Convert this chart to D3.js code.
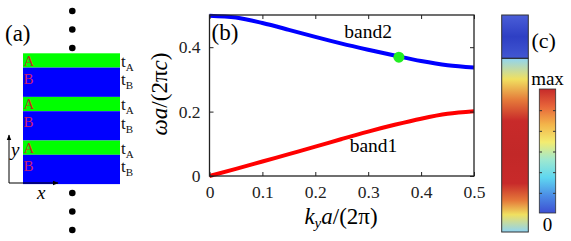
<!DOCTYPE html>
<html lang="en">
<head>
<meta charset="UTF-8">
<title>Photonic bands</title>
<script src="https://d3js.org/d3.v7.min.js"></script>
</head>
<body style="margin:0; background:#fff">
<script>
const W = 571, H = 241;
const SERIF = '"Liberation Serif"';

// band data
const ky = [0, 0.05, 0.1, 0.15, 0.2, 0.25, 0.3, 0.35, 0.4, 0.45, 0.5];
const band1 = [0, 0.022, 0.045, 0.068, 0.091, 0.115, 0.138, 0.159, 0.178, 0.193, 0.201];
const band2 = [0.498, 0.492, 0.475, 0.454, 0.432, 0.411, 0.392, 0.374, 0.357, 0.344, 0.337];
const marker = [0.358, 0.369];
const xTicks = [0, 0.1, 0.2, 0.3, 0.4, 0.5];
const yTicks = [0, 0.2, 0.4];

// layer stack in panel (a)
const layers = ["A", "B", "A", "B", "A", "B"];
const layerH = { A: 14.3, B: 29.3 };

// colour maps for panel (c)
const barStops = ["#8fd4f2", "#f0e060", "#e57a3a", "#c82a2a", "#c22828", "#c82a2a", "#e57a3a", "#f0e060", "#8fd4f2"];
const barOffsets = [0, 0.12, 0.24, 0.36, 0.55, 0.72, 0.82, 0.9, 1];
const jetStops = ["#c62a2a", "#e8663a", "#f3b44a", "#f3ec70", "#9ee8d0", "#5fd7f0", "#4c8ee6", "#3d4fd2"];
const cbTicks = [1, 2, 3, 4, 5];

const svg = d3.select("body").append("svg").attr("width", W).attr("height", H);
const defs = svg.append("defs");

// ---------- panel (a) ----------
const ga = svg.append("g");
let yy = 53.3;
layers.forEach(l => {
  ga.append("rect").attr("x", 23).attr("y", yy).attr("width", 97).attr("height", layerH[l])
    .attr("fill", l === "A" ? "#00ff00" : "#0000ff");
  ga.append("text").attr("x", 23.5).attr("y", yy + (l === "A" ? 12.5 : 16))
    .attr("font-size", 15).attr("fill", l === "A" ? "#c03020" : "#d0206a").text(l);
  const t = ga.append("text").attr("x", 121).attr("y", yy + layerH[l] - (l === "A" ? 1 : 12))
    .attr("font-size", 17).attr("fill", "#111").text("t");
  t.append("tspan").attr("font-size", 11).attr("dy", 4).text(l);
  yy += layerH[l];
});
[11, 29.5, 48, 193, 211.5, 230].forEach(cy => {
  ga.append("circle").attr("cx", 72.3).attr("cy", cy).attr("r", 3.3).attr("fill", "#000");
});
ga.append("text").attr("x", 5).attr("y", 41).attr("font-size", 23).text("(a)");
defs.append("marker").attr("id", "arr").attr("viewBox", "0 0 10 10").attr("refX", 9).attr("refY", 5)
  .attr("markerWidth", 6).attr("markerHeight", 6).attr("orient", "auto")
  .append("path").attr("d", "M0,1L10,5L0,9Z").attr("fill", "#000");
ga.append("line").attr("x1", 9).attr("y1", 183).attr("x2", 9).attr("y2", 135)
  .attr("stroke", "#000").attr("stroke-width", 1).attr("marker-end", "url(#arr)");
ga.append("line").attr("x1", 9).attr("y1", 183).attr("x2", 58).attr("y2", 183)
  .attr("stroke", "#000").attr("stroke-width", 1).attr("marker-end", "url(#arr)");
ga.append("text").attr("x", 11).attr("y", 156).attr("font-size", 19).attr("font-style", "italic").text("y");
ga.append("text").attr("x", 37).attr("y", 199).attr("font-size", 19).attr("font-style", "italic").text("x");

// ---------- panel (b) ----------
const m = { left: 209.5, right: 474, top: 15, bottom: 176 };
const x = d3.scaleLinear().domain([0, 0.5]).range([m.left, m.right]);
const y = d3.scaleLinear().domain([0, 0.5]).range([m.bottom, m.top]);

const gb = svg.append("g");
const line = d3.line().x((d, i) => x(ky[i])).y(d => y(d)).curve(d3.curveMonotoneX);
gb.append("path").datum(band1).attr("d", line).attr("fill", "none").attr("stroke", "#ff0000").attr("stroke-width", 4);
gb.append("path").datum(band2).attr("d", line).attr("fill", "none").attr("stroke", "#0000ff").attr("stroke-width", 4);
gb.append("circle").attr("cx", x(marker[0])).attr("cy", y(marker[1])).attr("r", 5.5).attr("fill", "#22ee22");

const ax = (g, axis) => {
  g.call(axis);
  g.select(".domain").remove();
  g.selectAll("line").attr("stroke", "#222");
};
gb.append("g").attr("transform", `translate(0,${m.bottom})`)
  .call(g => ax(g, d3.axisBottom(x).tickValues(xTicks).tickSize(-4).tickPadding(10).tickFormat(d3.format("~g"))))
  .selectAll("text").attr("font-size", 17.5).attr("fill", "#222");
gb.append("g").attr("transform", `translate(0,${m.top})`)
  .call(g => ax(g, d3.axisTop(x).tickValues(xTicks).tickSize(-4).tickFormat("")));
gb.append("g").attr("transform", `translate(${m.left},0)`)
  .call(g => ax(g, d3.axisLeft(y).tickValues(yTicks).tickSize(-4).tickPadding(9).tickFormat(d3.format("~g"))))
  .selectAll("text").attr("font-size", 17.5).attr("fill", "#222");
gb.append("g").attr("transform", `translate(${m.right},0)`)
  .call(g => ax(g, d3.axisRight(y).tickValues(yTicks).tickSize(-4).tickFormat("")));
gb.append("rect").attr("x", m.left).attr("y", m.top).attr("width", m.right - m.left).attr("height", m.bottom - m.top)
  .attr("fill", "none").attr("stroke", "#222").attr("stroke-width", 1.3);

gb.append("text").attr("x", 211.5).attr("y", 40).attr("font-size", 23).text("(b)");
gb.append("text").attr("x", x(0.3)).attr("y", 38).attr("text-anchor", "middle").attr("font-size", 19.5).text("band2");
gb.append("text").attr("x", x(0.31)).attr("y", 152).attr("text-anchor", "middle").attr("font-size", 19.5).text("band1");

const yl = gb.append("text").attr("transform", "translate(167,94) rotate(-90)").attr("text-anchor", "middle").attr("font-size", 23);
yl.append("tspan").attr("font-style", "italic").text("ωa");
yl.append("tspan").text("/(2π");
yl.append("tspan").attr("font-style", "italic").text("c");
yl.append("tspan").text(")");

const xl = gb.append("text").attr("x", 341).attr("y", 224).attr("text-anchor", "middle").attr("font-size", 23);
xl.append("tspan").attr("font-style", "italic").text("k");
xl.append("tspan").attr("font-style", "italic").attr("font-size", 15).attr("dy", 4).text("y");
xl.append("tspan").attr("font-style", "italic").attr("dy", -4).text("a");
xl.append("tspan").text("/(2π)");

// ---------- panel (c) ----------
const gc = svg.append("g");
const topGrad = defs.append("linearGradient").attr("id", "topg").attr("x1", 0).attr("x2", 0).attr("y1", 0).attr("y2", 1);
[["#4a5ed8", 0], ["#2e3fc4", 0.5], ["#4258d2", 1]].forEach(s => topGrad.append("stop").attr("offset", s[1]).attr("stop-color", s[0]));
const barGrad = defs.append("linearGradient").attr("id", "barg").attr("x1", 0).attr("x2", 0).attr("y1", 0).attr("y2", 1);
barStops.forEach((c, i) => barGrad.append("stop").attr("offset", barOffsets[i]).attr("stop-color", c));
const jetGrad = defs.append("linearGradient").attr("id", "jetg").attr("x1", 0).attr("x2", 0).attr("y1", 0).attr("y2", 1);
jetStops.forEach((c, i) => jetGrad.append("stop").attr("offset", i / (jetStops.length - 1)).attr("stop-color", c));

gc.append("rect").attr("x", 501.7).attr("y", 15).attr("width", 26.6).attr("height", 43.3).attr("fill", "url(#topg)");
gc.append("rect").attr("x", 501.7).attr("y", 58.3).attr("width", 26.6).attr("height", 173.7).attr("fill", "url(#barg)");
gc.append("rect").attr("x", 501.7).attr("y", 15).attr("width", 26.6).attr("height", 217).attr("fill", "none").attr("stroke", "#333").attr("stroke-width", 1);
gc.append("line").attr("x1", 501.7).attr("x2", 528.3).attr("y1", 58.3).attr("y2", 58.3).attr("stroke", "#222").attr("stroke-width", 1.2);

const cb = d3.scaleLinear().domain([0, 6]).range([213, 89]);
gc.append("rect").attr("x", 539.3).attr("y", 89).attr("width", 16.4).attr("height", 124).attr("fill", "url(#jetg)")
  .attr("stroke", "#333").attr("stroke-width", 0.8);
cbTicks.forEach(t => {
  gc.append("line").attr("x1", 539.3).attr("x2", 542).attr("y1", cb(t) + 1).attr("y2", cb(t) + 1).attr("stroke", "#333");
  gc.append("line").attr("x1", 553).attr("x2", 555.7).attr("y1", cb(t) + 1).attr("y2", cb(t) + 1).attr("stroke", "#333");
});
gc.append("text").attr("x", 531.5).attr("y", 48).attr("font-size", 22).text("(c)");
gc.append("text").attr("x", 547.5).attr("y", 85).attr("text-anchor", "middle").attr("font-size", 19).text("max");
gc.append("text").attr("x", 547.5).attr("y", 231).attr("text-anchor", "middle").attr("font-size", 19).text("0");

// serif everywhere (inline style so it wins over the axis defaults)
svg.selectAll("text").style("font-family", SERIF);
</script>
</body>
</html>
